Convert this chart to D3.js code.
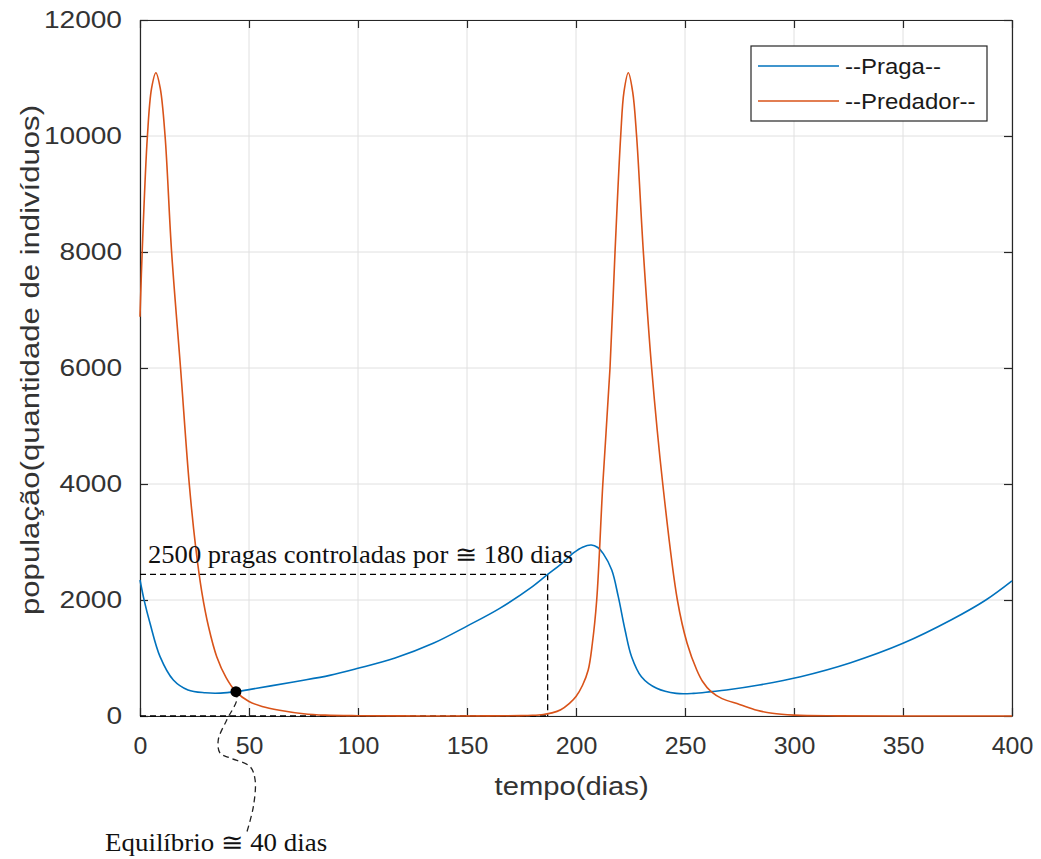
<!DOCTYPE html>
<html>
<head>
<meta charset="utf-8">
<script src="https://cdn.jsdelivr.net/npm/d3@7"></script>
<style>
  body { margin: 0; background: #fff; }
  svg text { font-family: "Liberation Sans", Arial, sans-serif; }
</style>
</head>
<body>
<svg width="1041" height="859"></svg>
<script>
// praga (blue) - tempo em dias, populacao
const pragaDias = [0, 2, 4.6, 9.2, 15.3, 22, 30, 37, 44, 50, 60, 73, 87, 100, 117, 134.5, 150, 165, 180, 187, 193, 199, 203, 207, 210, 212.5, 216.4, 219.4, 222.5, 225.5, 230, 237, 246, 254, 262, 269, 284, 303, 326, 350, 372, 388, 400];
const pragaPop  = [2345, 1980, 1598, 1023, 620, 448, 400, 395, 420, 455, 520, 603, 700, 822, 1000, 1253, 1550, 1856, 2230, 2440, 2615, 2815, 2910, 2948, 2905, 2800, 2517, 2057, 1483, 1023, 678, 478, 390, 390, 420, 448, 534, 678, 919, 1253, 1655, 2000, 2330];

// predador (orange)
const predDias = [0, 1, 3.4, 5.3, 7.3, 9.3, 11.5, 14.5, 18.6, 22.6, 25.5, 28.3, 31.5, 35.2, 39.5, 44, 50, 56, 64, 75, 85, 100, 130, 160, 175, 180, 185, 189, 193, 197, 200, 203, 205.6, 207.5, 209.5, 212.3, 215.6, 217.9, 220.5, 222, 224, 226, 227.8, 230.9, 234.7, 239.8, 246.5, 251, 255.4, 258, 262, 267, 275, 283, 290, 300, 320, 360, 400];
const predPop  = [6885, 8000, 10000, 10820, 11090, 10820, 10000, 8000, 6000, 4000, 2925, 2150, 1530, 1023, 663, 420, 250, 165, 100, 40, 15, 5, 1, 2, 6, 12, 27, 54, 108, 218, 335, 530, 793, 1250, 2000, 4000, 6000, 8000, 10000, 10760, 11090, 10760, 10000, 8000, 6000, 4000, 2000, 1250, 793, 600, 420, 300, 200, 100, 46, 15, 3, 1, 1];

const xTicks = [0, 50, 100, 150, 200, 250, 300, 350, 400];
const yTicks = [0, 2000, 4000, 6000, 8000, 10000, 12000];

const seriesNames = ["--Praga--", "--Predador--"];
const seriesColors = ["#0072BD", "#D95319"];

// anotacoes
const controleDias = 187, controlePop = 2443;
const equilibrio = [44, 420];
const guiaDias = [44, 44.4, 39.8, 35.9, 36.7, 41.3, 50.5, 52.8, 52, 48.9];
const guiaPop  = [420, 276, -69, -414, -638, -724, -874, -1103, -1563, -2017];

const svg = d3.select('svg');
const mLeft = 140, mRight = 1012, mTop = 20, mBottom = 716;

const x = d3.scaleLinear().domain([0, 400]).range([mLeft, mRight]);
const y = d3.scaleLinear().domain([0, 12000]).range([mBottom, mTop]);

const axColor = "#262626";
const fmt = d3.format('d');

// widen text a bit (reference picture is stretched horizontally)
function stretch(sel, k) {
  sel.each(function () {
    const w = this.getComputedTextLength();
    d3.select(this).attr('textLength', w * k).attr('lengthAdjust', 'spacingAndGlyphs');
  });
}

// grid
const grid = svg.append('g');
grid.selectAll('.gx').data(xTicks).enter().append('line')
  .attr('x1', d => x(d)).attr('x2', d => x(d))
  .attr('y1', mTop).attr('y2', mBottom)
  .attr('stroke', '#e0e0e0').attr('stroke-width', 1);
grid.selectAll('.gy').data(yTicks).enter().append('line')
  .attr('x1', mLeft).attr('x2', mRight)
  .attr('y1', d => y(d)).attr('y2', d => y(d))
  .attr('stroke', '#e0e0e0').attr('stroke-width', 1);

// axes
const axB = svg.append('g').attr('transform', `translate(0,${mBottom})`)
  .call(d3.axisBottom(x).tickValues(xTicks).tickFormat(fmt).tickSizeInner(-8).tickSizeOuter(0).tickPadding(21));
const axT = svg.append('g').attr('transform', `translate(0,${mTop})`)
  .call(d3.axisTop(x).tickValues(xTicks).tickSizeInner(-8).tickSizeOuter(0).tickFormat(''));
const axL = svg.append('g').attr('transform', `translate(${mLeft},0)`)
  .call(d3.axisLeft(y).tickValues(yTicks).tickFormat(fmt).tickSizeInner(-8).tickSizeOuter(0).tickPadding(18));
const axR = svg.append('g').attr('transform', `translate(${mRight},0)`)
  .call(d3.axisRight(y).tickValues(yTicks).tickSizeInner(-8).tickSizeOuter(0).tickFormat(''));

[axB, axT, axL, axR].forEach(a => {
  a.select('.domain').attr('stroke', axColor).attr('stroke-width', 1.2);
  a.selectAll('.tick line').attr('stroke', axColor).attr('stroke-width', 1.2);
  a.selectAll('.tick text').attr('fill', '#333')
    .style('font-family', '"Liberation Sans", Arial, sans-serif').style('font-size', '24px');
});
stretch(axL.selectAll('.tick text'), 1.17);
stretch(axB.selectAll('.tick text'), 1.04);

// axis titles
const xTitle = svg.append('text')
  .attr('x', x(198)).attr('y', 795)
  .attr('text-anchor', 'middle')
  .attr('fill', '#333').style('font-size', '25px')
  .text('tempo(dias)');
xTitle.attr('textLength', 154).attr('lengthAdjust', 'spacingAndGlyphs');
const yTitle = svg.append('text')
  .attr('transform', `translate(39,360) rotate(-90)`)
  .attr('text-anchor', 'middle')
  .attr('fill', '#333').style('font-size', '26px')
  .text('população(quantidade de indivíduos)');
yTitle.attr('textLength', 510).attr('lengthAdjust', 'spacingAndGlyphs');

// annotation dashed lines
const dash = '6,4';
svg.append('line')
  .attr('x1', x(0)).attr('x2', x(controleDias))
  .attr('y1', y(controlePop)).attr('y2', y(controlePop))
  .attr('stroke', '#000').attr('stroke-width', 1.3).attr('stroke-dasharray', dash);
svg.append('line')
  .attr('x1', x(controleDias)).attr('x2', x(controleDias))
  .attr('y1', y(controlePop)).attr('y2', y(0))
  .attr('stroke', '#000').attr('stroke-width', 1.3).attr('stroke-dasharray', dash);
svg.append('line')
  .attr('x1', x(0)).attr('x2', x(controleDias))
  .attr('y1', y(0)).attr('y2', y(0))
  .attr('stroke', '#000').attr('stroke-width', 1.3).attr('stroke-dasharray', dash);

// data lines
const line = d3.line().x(d => x(d[0])).y(d => y(Math.max(0, d[1]))).curve(d3.curveCatmullRom.alpha(0.5));
const praga = pragaDias.map((d, i) => [d, pragaPop[i]]);
const pred = predDias.map((d, i) => [d, predPop[i]]);

svg.append('path').datum(praga)
  .attr('d', line).attr('fill', 'none')
  .attr('stroke', seriesColors[0]).attr('stroke-width', 1.6);
svg.append('path').datum(pred)
  .attr('d', line).attr('fill', 'none')
  .attr('stroke', seriesColors[1]).attr('stroke-width', 1.6);

// equilibrium point and leader
const guia = guiaDias.map((d, i) => [d, guiaPop[i]]);
svg.append('path').datum(guia)
  .attr('d', d3.line().x(d => x(d[0])).y(d => y(d[1])).curve(d3.curveCatmullRom.alpha(0.5)))
  .attr('fill', 'none').attr('stroke', '#222').attr('stroke-width', 1.3).attr('stroke-dasharray', dash);
svg.append('circle')
  .attr('cx', x(equilibrio[0])).attr('cy', y(equilibrio[1])).attr('r', 5.5)
  .attr('fill', '#000');

// annotation texts
svg.append('text')
  .attr('x', x(3.7)).attr('y', y(controlePop) - 11)
  .style('font-family', '"Liberation Serif", "Times New Roman", serif')
  .style('font-size', '25px').attr('fill', '#111')
  .attr('textLength', 425).attr('lengthAdjust', 'spacingAndGlyphs')
  .text('2500 pragas controladas por ≅ 180 dias');
svg.append('text')
  .attr('x', x(-16)).attr('y', y(-2327))
  .style('font-family', '"Liberation Serif", "Times New Roman", serif')
  .style('font-size', '25px').attr('fill', '#111')
  .attr('textLength', 222).attr('lengthAdjust', 'spacingAndGlyphs')
  .text('Equilíbrio ≅ 40 dias');

// legend
const lg = svg.append('g');
lg.append('rect')
  .attr('x', 751).attr('y', 46).attr('width', 236).attr('height', 75)
  .attr('fill', '#fff').attr('stroke', axColor).attr('stroke-width', 1.2);
seriesNames.forEach((name, i) => {
  const ly = 66 + i * 35;
  lg.append('line').attr('x1', 758).attr('x2', 839).attr('y1', ly).attr('y2', ly)
    .attr('stroke', seriesColors[i]).attr('stroke-width', 1.6);
  const t = lg.append('text').attr('x', 845).attr('y', ly + 8)
    .attr('fill', '#1a1a1a').style('font-size', '22px')
    .text(name);
  stretch(t, 1.09);
});
</script>
</body>
</html>
